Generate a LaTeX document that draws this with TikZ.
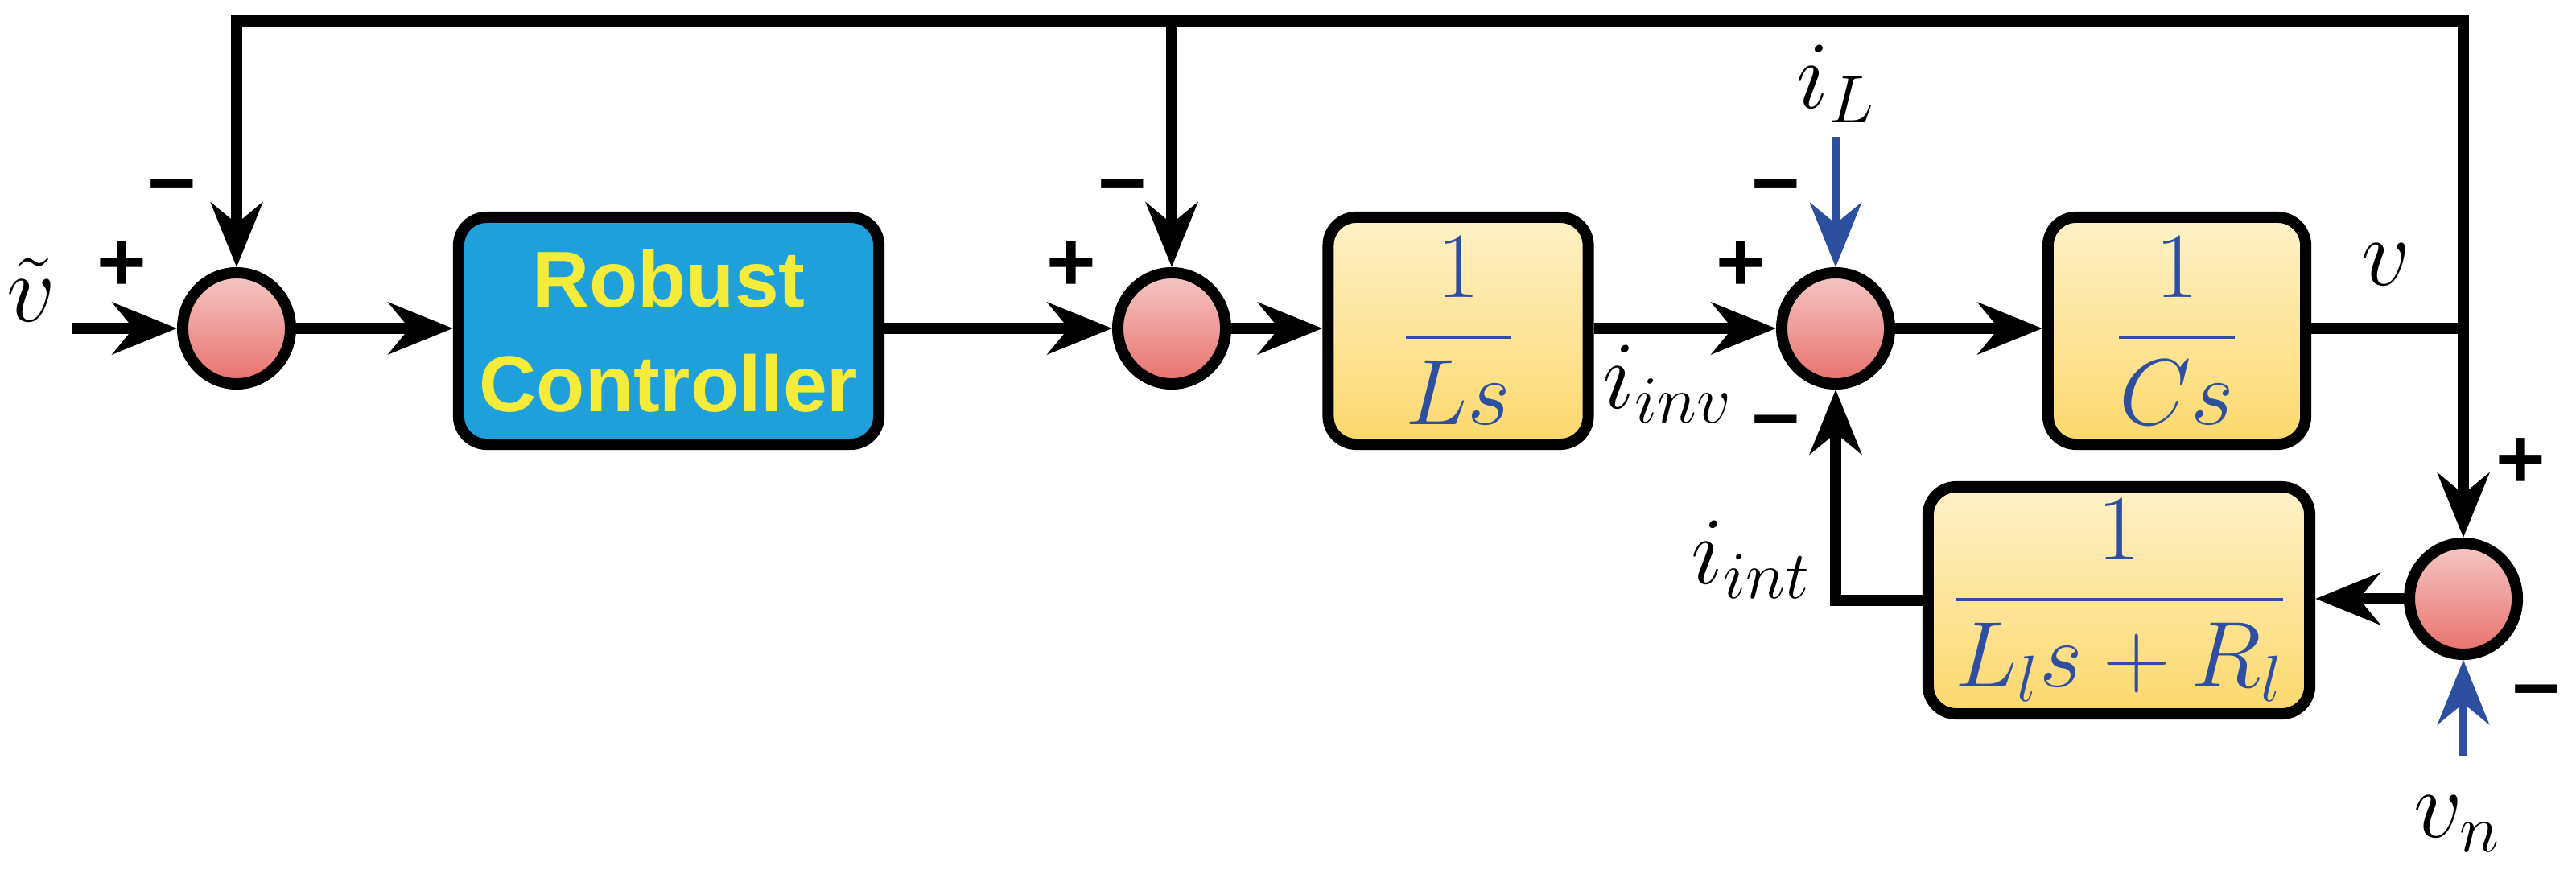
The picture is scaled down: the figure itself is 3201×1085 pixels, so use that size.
\RequirePackage{fix-cm}
\documentclass[tikz,border=0pt]{standalone}
\usepackage{amsmath}
\usepackage{fontspec}
\setmainfont{Liberation Sans}
\usepackage{tikz}
\usetikzlibrary{shapes.geometric, arrows.meta}

\definecolor{ctrlblue}{HTML}{1FA0DA}
\definecolor{tfblue}{HTML}{2E4FA0}
\definecolor{sumtop}{HTML}{F5C8C6}
\definecolor{sumbot}{HTML}{E8706C}
\definecolor{boxtop}{HTML}{FEF1C8}
\definecolor{boxbot}{HTML}{FCD86C}
\definecolor{ctrltext}{HTML}{F5EB3A}

\begin{document}
\begin{tikzpicture}
  [
    x = 0.01cm, y = -0.01cm,
    line width = 0.14cm,
    sum/.style = {draw, ellipse, inner sep = 0pt, minimum width = 1.34cm,
      minimum height = 1.38cm, top color = sumtop, bottom color = sumbot},
    block/.style = {draw, rounded corners = 0.35cm, inner sep = 0pt,
      minimum height = 2.82cm, top color = boxtop, bottom color = boxbot,
      text = tfblue, font = \fontsize{33}{40}\selectfont},
    arr/.style = {-{Stealth[length = 0.8cm, width = 0.64cm, inset = 0.26cm]}},
    inarr/.style = {arr, draw = tfblue, line width = 0.1cm},
    sign/.style = {font = \fontsize{30}{36}\selectfont\bfseries},
    lbl/.style = {font = \fontsize{34}{40}\selectfont}
  ]
  \useasboundingbox (0,0) rectangle (3201,1085);
  % summing junctions
  \node [sum] (s1) at (294,408) {};
  \node [sum] (s2) at (1456,408) {};
  \node [sum] (s3) at (2281,408) {};
  \node [sum] (s4) at (3061,744) {};
  % blocks
  \node [block, minimum width = 5.22cm, top color = ctrlblue,
    bottom color = ctrlblue, text = ctrltext,
    font = \fontsize{28}{37}\selectfont\bfseries, align = center]
    (ctrl) at (831,411) {Robust\\Controller};
  \node [block, minimum width = 3.23cm] (ls) at (1812,411) {$\dfrac{1}{Ls}$};
  \node [block, minimum width = 3.2cm] (cs) at (2705,411) {$\dfrac{1}{Cs}$};
  \node [block, minimum width = 4.74cm] (lb) at (2633,746)
    {$\dfrac{1}{L_l s + R_l}$};
  % helper points
  \coordinate (in) at (89,408);
  \coordinate (vout) at (3061,408);
  \coordinate (ttop) at (3061,26);
  \coordinate (il) at (2281,170);
  \coordinate (vn) at (3061,939);
  % connectors
  \draw [arr] (in) -- (s1);
  \draw [arr] (s1) -- (s1 -| ctrl.west);
  \draw [arr] (ctrl.east |- s2) -- (s2);
  \draw [arr] (s2) -- (s2 -| ls.west);
  \draw [arr] (ls.east |- s3) -- (s3);
  \draw [arr] (s3) -- (s3 -| cs.west);
  \draw (cs.east |- vout) -- (vout);
  \draw [arr] (vout) -- (s4);
  \draw [arr] (vout) -- (ttop) -| (s1);
  \draw [arr] (s2 |- ttop) -- (s2);
  \draw [arr] (s4) -- (s4 -| lb.east);
  \draw [arr] (lb.west) -| (s3);
  \draw [inarr] (il) -- (s3);
  \draw [inarr] (vn) -- (s4);
  % labels
  \node [lbl] (lv) at (39,360) {$\tilde{v}$};
  \node [lbl] (liL) at (2281,104) {$i_L$};
  \node [lbl] (liinv) at (2072,477) {$i_{inv}$};
  \node [lbl] (liint) at (2176,695) {$i_{int}$};
  \node [lbl] (lvo) at (2965,329) {$v$};
  \node [lbl] (lvn) at (3053,1024) {$v_n$};
  \begin{scope}[sign]
    \node (p1) at (151,331) {+};
    \node (m1) at (214,240) {–};
    \node (p2) at (1331,331) {+};
    \node (m2) at (1395,240) {–};
    \node (p3) at (2163,331) {+};
    \node (m3) at (2207,240) {–};
    \node (m4) at (2207,533) {–};
    \node (p4) at (3132,576) {+};
    \node (m5) at (3152,868) {–};
  \end{scope}
\end{tikzpicture}
\end{document}
